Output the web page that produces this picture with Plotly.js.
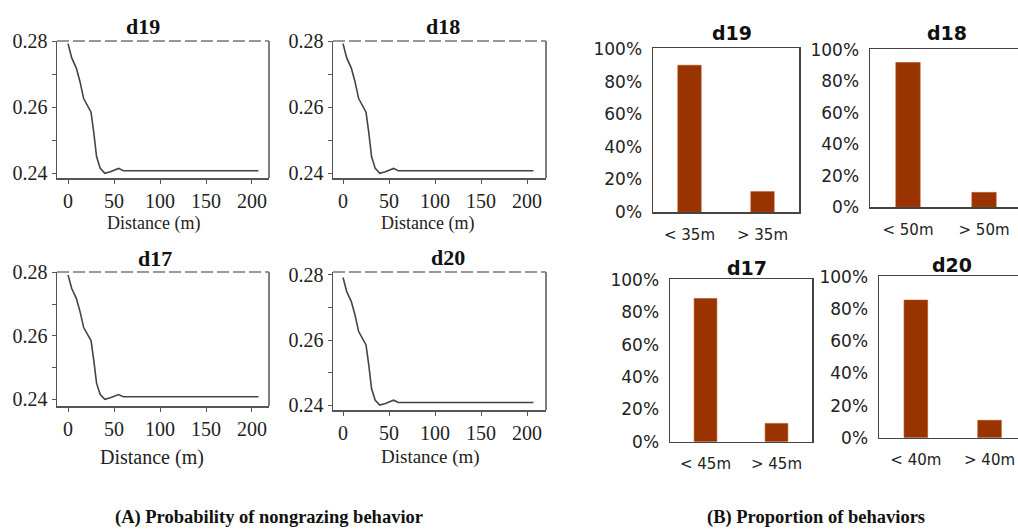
<!DOCTYPE html>
<html>
<head>
<meta charset="utf-8">
<script src="https://cdn.plot.ly/plotly-3.0.1.min.js"></script>
<style>html,body{margin:0;padding:0;background:#fff;}#chart{width:1018px;height:529px;}</style>
</head>
<body>
<div id="chart"></div>
<script>
// ---------- data ----------
const distance = [0, 4, 9, 13, 17, 21, 25, 28, 31, 35, 40, 46, 51, 55, 60, 207];
const nongrazingProb = [0.2792, 0.2749, 0.2718, 0.2677, 0.2626, 0.2603, 0.2585, 0.2523, 0.2451, 0.2415, 0.2400, 0.2405, 0.2410, 0.2415, 0.2408, 0.2408];
const lineTitles = ['d19', 'd18', 'd17', 'd20'];
const xTickVals = [0, 50, 100, 150, 200];
const yTickVals = [0.24, 0.25, 0.26, 0.27, 0.28];
const yTickText = ['0.24', '', '0.26', '', '0.28'];

const barTitles = ['d19', 'd18', 'd17', 'd20'];
const d19Cats = ['< 35m', '> 35m'];
const d18Cats = ['< 50m', '> 50m'];
const d17Cats = ['< 45m', '> 45m'];
const d20Cats = ['< 40m', '> 40m'];
const d19Share = [0.90, 0.125];
const d18Share = [0.92, 0.093];
const d17Share = [0.885, 0.113];
const d20Share = [0.856, 0.108];
const pctTicks = [0, 0.2, 0.4, 0.6, 0.8, 1.0];

const captionA = '(A) Probability of nongrazing behavior';
const captionB = '(B) Proportion of behaviors';
const xAxisLabel = 'Distance (m)';

// ---------- layout helpers ----------
const W = 1018, H = 529;
const px = v => v / W;
const py = v => 1 - v / H;
const esc = s => s.replace(/</g, '&lt;').replace(/>/g, '&gt;');

const serif = 'Liberation Serif, Times New Roman, serif';
const sans = 'DejaVu Sans, sans-serif';

const linePanels = [
  {l: 57,  r: 269, t: 41,  b: 178, xr: [-12, 218.5],  yr: [0.2386, 0.2800]},
  {l: 333, r: 546, t: 41,  b: 178, xr: [-10.9, 220.6], yr: [0.2386, 0.2800]},
  {l: 57,  r: 269, t: 272, b: 406, xr: [-12, 218.5],  yr: [0.2379, 0.2801]},
  {l: 333, r: 546, t: 272, b: 410, xr: [-10.9, 220.6], yr: [0.2385, 0.2809]}
];
const lineTitlePos = [[143, 26], [443, 26], [155, 258], [448, 257]];
const lineXLabelPos = [[153, 223], [427, 223], [152, 457], [430, 457]];
const lineXLabelSize = [18, 18, 20, 19];

const barPanels = [
  {l: 653, r: 799,  t: 48,  b: 212,   xr: [-0.5, 1.5],   right: true},
  {l: 870, r: 1018, t: 49,  b: 207,   xr: [-0.5, 1.447], right: false},
  {l: 670, r: 812,  t: 279, b: 441.7, xr: [-0.5, 1.5],   right: true},
  {l: 879, r: 1018, t: 276, b: 437.7, xr: [-0.5, 1.386], right: false}
];
const barTitlePos = [[732, 33], [947, 33], [747, 268], [952, 265]];
const barCatsAll = [d19Cats, d18Cats, d17Cats, d20Cats];
const barVals = [d19Share, d18Share, d17Share, d20Share];

const data = [];
const layout = {
  width: W, height: H,
  margin: {l: 0, r: 0, t: 0, b: 0},
  paper_bgcolor: '#fff', plot_bgcolor: '#fff',
  showlegend: false,
  hovermode: false,
  annotations: [],
  shapes: []
};

const frameCol = '#555';

linePanels.forEach((p, i) => {
  const n = i + 1;
  const xa = n === 1 ? 'x' : 'x' + n;
  const ya = n === 1 ? 'y' : 'y' + n;
  data.push({
    type: 'scatter', mode: 'lines', x: distance, y: nongrazingProb,
    xaxis: xa, yaxis: ya,
    line: {color: '#444', width: 1.6}
  });
  layout['xaxis' + n] = {
    domain: [px(p.l), px(p.r)], anchor: ya, range: p.xr,
    tickmode: 'array', tickvals: xTickVals, ticktext: xTickVals.map(String),
    ticks: 'outside', ticklen: 4, tickcolor: frameCol, tickwidth: 1,
    showline: true, linecolor: frameCol, linewidth: 1.5,
    showgrid: false, zeroline: false,
    tickfont: {family: serif, size: 20, color: '#222'}
  };
  layout['yaxis' + n] = {
    domain: [py(p.b), py(p.t)], anchor: xa, range: p.yr,
    tickmode: 'array', tickvals: yTickVals, ticktext: yTickText,
    ticks: 'outside', ticklen: 4, tickcolor: frameCol, tickwidth: 1,
    showline: true, linecolor: frameCol, linewidth: 1.5,
    showgrid: false, zeroline: false,
    tickfont: {family: serif, size: 20, color: '#222'}
  };
  layout.shapes.push({type: 'line', xref: xa + ' domain', yref: ya + ' domain',
    x0: 1, x1: 1, y0: 0, y1: 1, line: {color: frameCol, width: 1.5}});
  layout.shapes.push({type: 'line', xref: xa + ' domain', yref: ya + ' domain',
    x0: 0, x1: 1, y0: 1, y1: 1, line: {color: '#777', width: 1.5, dash: '12px,4px'}});
  layout.annotations.push({
    text: '<b>' + lineTitles[i] + '</b>', xref: 'paper', yref: 'paper',
    x: px(lineTitlePos[i][0]), y: py(lineTitlePos[i][1]),
    xanchor: 'center', yanchor: 'middle', showarrow: false,
    font: {family: serif, size: 22, color: '#111'}
  });
  layout.annotations.push({
    text: xAxisLabel, xref: 'paper', yref: 'paper',
    x: px(lineXLabelPos[i][0]), y: py(lineXLabelPos[i][1]),
    xanchor: 'center', yanchor: 'middle', showarrow: false,
    font: {family: serif, size: lineXLabelSize[i], color: '#222'}
  });
});

const barCol = '#993300';
const barFrame = '#444';

barPanels.forEach((p, i) => {
  const n = i + 5;
  const xa = 'x' + n, ya = 'y' + n;
  data.push({
    type: 'bar', x: [0, 1], y: barVals[i], xaxis: xa, yaxis: ya,
    width: 0.32, marker: {color: barCol, line: {color: '#b04a1a', width: 0.6}}
  });
  layout['xaxis' + n] = {
    domain: [px(p.l), px(p.r)], anchor: ya, range: p.xr,
    tickmode: 'array', tickvals: [0, 1], ticktext: barCatsAll[i].map(esc),
    ticks: 'outside', ticklen: 8, tickcolor: 'rgba(0,0,0,0)',
    showline: true, linecolor: barFrame, linewidth: 1.5, mirror: true,
    showgrid: false, zeroline: false,
    tickfont: {family: sans, size: 15, color: '#222'}
  };
  layout['yaxis' + n] = {
    domain: [py(p.b), py(p.t)], anchor: xa, range: [0, 1.006],
    tickmode: 'array', tickvals: pctTicks, tickformat: '.0%',
    ticks: 'outside', ticklen: 6, tickcolor: 'rgba(0,0,0,0)',
    showline: true, linecolor: barFrame, linewidth: 1.5, mirror: p.right,
    showgrid: false, zeroline: false,
    tickfont: {family: sans, size: 17, color: '#222'}
  };
  layout.annotations.push({
    text: '<b>' + barTitles[i] + '</b>', xref: 'paper', yref: 'paper',
    x: px(barTitlePos[i][0]), y: py(barTitlePos[i][1]),
    xanchor: 'center', yanchor: 'middle', showarrow: false,
    font: {family: sans, size: 19, color: '#111'}
  });
});

layout.annotations.push({
  text: '<b>' + captionA + '</b>', xref: 'paper', yref: 'paper', x: px(269), y: py(517),
  xanchor: 'center', yanchor: 'middle', showarrow: false,
  font: {family: serif, size: 18.5, color: '#111'}
});
layout.annotations.push({
  text: '<b>' + captionB + '</b>', xref: 'paper', yref: 'paper', x: px(816), y: py(517),
  xanchor: 'center', yanchor: 'middle', showarrow: false,
  font: {family: serif, size: 18.5, color: '#111'}
});

Plotly.newPlot('chart', data, layout, {displayModeBar: false, staticPlot: true});
</script>
</body>
</html>
